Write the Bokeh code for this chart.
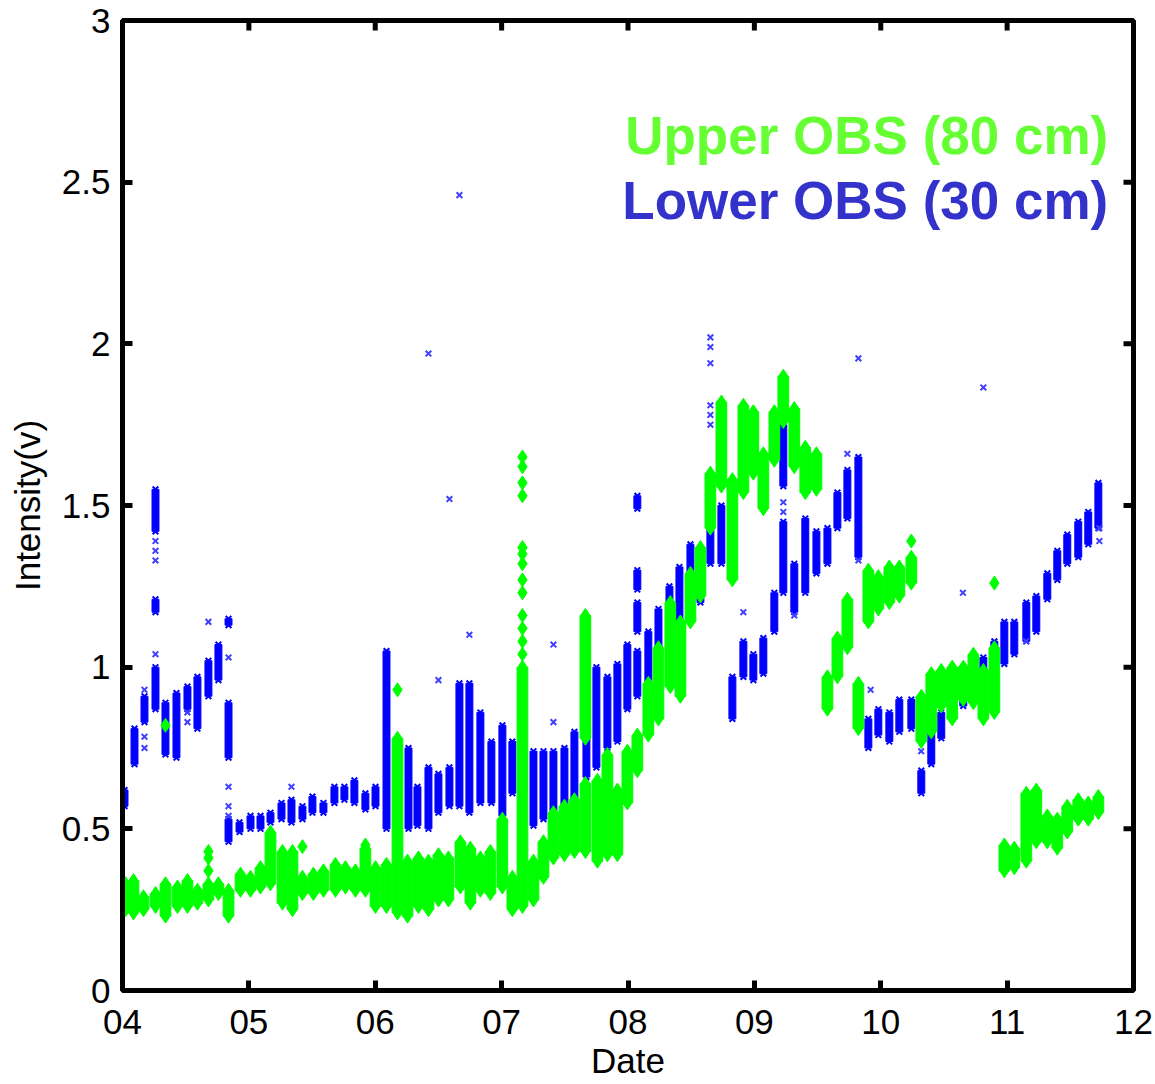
import math
from bokeh.plotting import figure
from bokeh.models import FixedTicker, Range1d, Label
from bokeh.embed import file_html
from bokeh.resources import INLINE

# ---------------- data ----------------
x_ticks = [4, 5, 6, 7, 8, 9, 10, 11, 12]
x_tick_labels = ["04", "05", "06", "07", "08", "09", "10", "11", "12"]
y_ticks = [0, 0.5, 1, 1.5, 2, 2.5, 3]
y_tick_labels = ["0", "0.5", "1", "1.5", "2", "2.5", "3"]

# Lower OBS (30 cm): bursts of samples (x = date, lo/hi = burst range)
blue_x = [4.016, 4.095, 4.174, 4.261, 4.261, 4.261, 4.340, 4.427, 4.514, 4.593, 4.680, 4.759, 4.839, 4.839, 4.839,
          4.926, 5.013, 5.092, 5.171, 5.258, 5.337, 5.424, 5.503, 5.590, 5.677, 5.756, 5.835, 5.922,
          6.002, 6.089, 6.176, 6.263, 6.334, 6.421, 6.500, 6.587, 6.666, 6.745, 6.832, 6.919,
          7.006, 7.085, 7.172, 7.252, 7.331, 7.410, 7.497, 7.576, 7.671, 7.750, 7.837, 7.916, 7.995,
          8.074, 8.074, 8.074, 8.074, 8.161, 8.241, 8.328, 8.407, 8.494, 8.573, 8.652, 8.739, 8.826, 8.913, 8.992,
          9.071, 9.158, 9.229, 9.229, 9.316, 9.403, 9.491, 9.578, 9.657, 9.736, 9.823, 9.902, 9.981,
          10.068, 10.147, 10.242, 10.321, 10.400, 10.479, 10.566, 10.653, 10.733, 10.812, 10.899, 10.978,
          11.057, 11.152, 11.231, 11.318, 11.397, 11.476, 11.563, 11.642, 11.722]
blue_lo = [0.57, 0.70, 0.83, 0.87, 1.17, 1.42, 0.73, 0.72, 0.87, 0.81, 0.91, 0.96, 0.72, 1.13, 0.46,
           0.49, 0.50, 0.50, 0.52, 0.53, 0.52, 0.53, 0.55, 0.55, 0.58, 0.59, 0.58, 0.56,
           0.57, 0.50, 0.49, 0.50, 0.51, 0.50, 0.55, 0.57, 0.57, 0.55, 0.58, 0.58,
           0.54, 0.61, 0.62, 0.51, 0.53, 0.55, 0.56, 0.58, 0.66, 0.69, 0.75, 0.77, 0.87,
           0.91, 1.11, 1.24, 1.49, 0.91, 0.85, 1.01, 0.92, 1.25, 1.20, 1.32, 1.32, 0.84, 0.97, 0.96,
           0.98, 1.11, 1.23, 1.56, 1.17, 1.23, 1.29, 1.32, 1.43, 1.46, 1.34, 0.75, 0.79,
           0.77, 0.80, 0.81, 0.61, 0.70, 0.78, 0.84, 0.88, 0.98, 0.98, 0.99, 1.01,
           1.04, 1.08, 1.11, 1.21, 1.27, 1.32, 1.34, 1.38, 1.43]
blue_hi = [0.62, 0.81, 0.91, 1.00, 1.21, 1.55, 0.89, 0.92, 0.94, 0.97, 1.02, 1.07, 0.89, 1.15, 0.53,
           0.52, 0.54, 0.54, 0.55, 0.58, 0.59, 0.57, 0.60, 0.58, 0.63, 0.63, 0.65, 0.61,
           0.63, 1.05, 0.64, 0.75, 0.63, 0.69, 0.67, 0.69, 0.95, 0.95, 0.86, 0.77,
           0.82, 0.77, 0.74, 0.74, 0.74, 0.74, 0.75, 0.80, 0.80, 1.00, 0.97, 1.01, 1.07,
           1.05, 1.20, 1.30, 1.53, 1.11, 1.18, 1.25, 1.31, 1.38, 1.26, 1.43, 1.50, 0.97, 1.08, 1.04,
           1.09, 1.23, 1.45, 1.75, 1.32, 1.46, 1.42, 1.43, 1.54, 1.61, 1.65, 0.84, 0.87,
           0.86, 0.90, 0.90, 0.68, 0.80, 0.86, 0.91, 0.98, 1.03, 1.03, 1.08, 1.14,
           1.14, 1.20, 1.22, 1.29, 1.36, 1.41, 1.45, 1.48, 1.57]
# isolated Lower OBS samples
blue_out_x = [4.174, 4.174, 4.174, 4.261, 4.261, 4.261, 4.261, 4.514, 4.514, 4.680, 4.839, 4.839, 4.839, 4.839,
              5.337, 6.421, 6.500, 6.587, 6.666, 6.745, 7.410, 7.410, 8.652, 8.652, 8.652, 8.652, 8.652, 8.652,
              8.913, 9.229, 9.229, 9.316, 9.736, 9.823, 9.823, 9.920, 10.32, 10.40, 10.65, 10.812, 11.15,
              11.73, 11.73]
blue_out_y = [0.93, 0.785, 0.75, 1.04, 1.33, 1.36, 1.39, 0.86, 0.83, 1.14, 1.03, 0.63, 0.57, 0.54,
              0.63, 1.97, 0.96, 1.52, 2.46, 1.10, 1.07, 0.83, 2.02, 1.99, 1.94, 1.81, 1.78, 1.75,
              1.17, 1.51, 1.48, 1.16, 1.66, 1.955, 1.33, 0.93, 0.74, 0.81, 1.23, 1.865, 1.08,
              1.43, 1.39]

# Upper OBS (80 cm)
green_x = [4.024, 4.087, 4.166, 4.261, 4.340, 4.435, 4.514, 4.593, 4.680, 4.759, 4.839, 4.934,
           5.013, 5.092, 5.171, 5.266, 5.345, 5.424, 5.511, 5.590, 5.685, 5.764, 5.843, 5.922,
           6.002, 6.089, 6.176, 6.255, 6.342, 6.421, 6.500, 6.579, 6.674, 6.753, 6.832, 6.911,
           7.006, 7.085, 7.165, 7.252, 7.331, 7.410, 7.497, 7.576, 7.663, 7.663, 7.758, 7.837, 7.916, 7.995,
           8.074, 8.161, 8.241, 8.335, 8.415, 8.494, 8.573, 8.652, 8.739, 8.826, 8.913, 8.992,
           9.071, 9.158, 9.229, 9.316, 9.403, 9.491, 9.578, 9.657, 9.736, 9.823, 9.902, 9.981,
           10.068, 10.147, 10.242, 10.321, 10.400, 10.479, 10.566, 10.653, 10.733, 10.812, 10.899, 10.978,
           11.057, 11.152, 11.231, 11.318, 11.397, 11.476, 11.563, 11.642, 11.722]
green_lo = [0.25, 0.24, 0.25, 0.26, 0.23, 0.26, 0.26, 0.27, 0.28, 0.30, 0.23, 0.31,
            0.31, 0.32, 0.33, 0.27, 0.25, 0.30, 0.30, 0.31, 0.31, 0.32, 0.31, 0.31,
            0.26, 0.26, 0.24, 0.23, 0.26, 0.25, 0.28, 0.28, 0.32, 0.27, 0.31, 0.30,
            0.32, 0.25, 0.26, 0.28, 0.35, 0.41, 0.42, 0.43, 0.43, 0.78, 0.40, 0.42, 0.42, 0.58,
            0.68, 0.79, 0.84, 0.94, 0.91, 1.14, 1.22, 1.43, 1.56, 1.27, 1.54, 1.60,
            1.49, 1.64, 1.76, 1.62, 1.54, 1.55, 0.87, 0.97, 1.06, 0.81, 1.14, 1.18,
            1.20, 1.22, 1.26, 0.77, 0.80, 0.88, 0.84, 0.90, 0.89, 0.84, 0.86, 0.37,
            0.38, 0.40, 0.46, 0.46, 0.44, 0.49, 0.53, 0.53, 0.55]
green_hi = [0.33, 0.34, 0.29, 0.30, 0.33, 0.32, 0.34, 0.31, 0.33, 0.33, 0.31, 0.36,
            0.35, 0.38, 0.49, 0.43, 0.43, 0.35, 0.36, 0.37, 0.39, 0.38, 0.37, 0.44,
            0.38, 0.39, 0.78, 0.40, 0.41, 0.40, 0.42, 0.41, 0.46, 0.44, 0.41, 0.43,
            0.53, 0.35, 1.00, 0.40, 0.46, 0.55, 0.57, 0.59, 0.64, 1.16, 0.65, 0.73, 0.62, 0.74,
            0.79, 0.95, 1.06, 1.20, 1.14, 1.29, 1.37, 1.60, 1.82, 1.58, 1.81, 1.79,
            1.66, 1.79, 1.90, 1.80, 1.68, 1.66, 0.97, 1.09, 1.21, 0.95, 1.30, 1.28,
            1.31, 1.31, 1.34, 0.91, 0.98, 0.99, 1.00, 1.00, 1.04, 0.99, 1.06, 0.45,
            0.44, 0.61, 0.62, 0.54, 0.53, 0.57, 0.59, 0.58, 0.60]
green_out_x = [4.340, 4.680, 4.680, 4.680, 5.424, 5.922, 6.176,
               7.165, 7.165, 7.165, 7.165, 7.165, 7.165, 7.165, 7.165, 7.165, 7.165, 7.165, 7.165, 7.165,
               10.242, 10.899]
green_out_y = [0.82, 0.37, 0.41, 0.43, 0.445, 0.45, 0.93,
               1.04, 1.08, 1.12, 1.16, 1.23, 1.27, 1.32, 1.35, 1.37, 1.53, 1.57, 1.62, 1.65,
               1.39, 1.26]

legend_labels = ["Upper OBS (80 cm)", "Lower OBS (30 cm)"]

# ---------------- styling ----------------
BLUE = "#0000ff"
GREEN = "#00ff00"
FONT = "Liberation Sans"

p = figure(width=1155, height=1084, output_backend="svg", toolbar_location=None,
           x_range=Range1d(4, 12), y_range=Range1d(0, 3),
           min_border_left=122, min_border_right=22, min_border_top=20, min_border_bottom=94,
           x_axis_label="Date", y_axis_label="Intensity(v)")
p.background_fill_color = "white"
p.border_fill_color = "white"
p.outline_line_color = "black"
p.outline_line_width = 5
p.xgrid.visible = False
p.ygrid.visible = False

# Lower OBS
p.vbar(x=blue_x, bottom=blue_lo, top=blue_hi, width=0.055, fill_color=BLUE, line_color=BLUE, line_width=1)
p.scatter(blue_x, blue_lo, marker="x", size=8, line_color=BLUE, line_width=2)
p.scatter(blue_x, blue_hi, marker="x", size=8, line_color=BLUE, line_width=2)
p.scatter(blue_out_x, blue_out_y, marker="x", size=8, line_color="#4040ff", line_width=2)

# Upper OBS
p.vbar(x=green_x, bottom=green_lo, top=green_hi, width=0.085, fill_color=GREEN, line_color=GREEN)
p.scatter(green_x, green_lo, marker="diamond", size=14, fill_color=GREEN, line_color=GREEN)
p.scatter(green_x, green_hi, marker="diamond", size=14, fill_color=GREEN, line_color=GREEN)
p.scatter(green_out_x, green_out_y, marker="diamond", size=14, fill_color=GREEN, line_color=GREEN)

# inward ticks on the top and right frame edges (clipped to the frame, so only the inner half shows)
p.scatter(x_ticks, [3] * len(x_ticks), marker="dash", angle=math.pi / 2, size=20,
          line_color="black", line_width=5)
p.scatter([12] * len(y_ticks), y_ticks, marker="dash", size=20, line_color="black", line_width=5)

for ax in p.xaxis + p.yaxis:
    ax.axis_line_width = 5
    ax.axis_line_color = "black"
    ax.major_tick_line_width = 5
    ax.major_tick_in = 10
    ax.major_tick_out = 0
    ax.minor_tick_line_color = None
    ax.major_label_text_font = FONT
    ax.major_label_text_font_size = "35px"
    ax.major_label_text_color = "black"
    ax.axis_label_text_font = FONT
    ax.axis_label_text_font_size = "35px"
    ax.axis_label_text_font_style = "normal"
    ax.axis_label_text_color = "black"

p.xaxis.ticker = FixedTicker(ticks=x_ticks)
p.xaxis.major_label_overrides = dict(zip(x_ticks, x_tick_labels))
p.yaxis.ticker = FixedTicker(ticks=y_ticks)
p.yaxis.major_label_overrides = dict(zip(y_ticks, y_tick_labels))
p.xaxis.major_label_standoff = 19
p.xaxis.axis_label_standoff = 4
p.yaxis.major_label_standoff = 12
p.yaxis.axis_label_standoff = 12

p.add_layout(Label(x=11.80, y=2.645, text=legend_labels[0], text_align="right", text_baseline="middle",
                   text_font=FONT, text_font_size="53px", text_font_style="bold", text_color="#66ff33"))
p.add_layout(Label(x=11.80, y=2.444, text=legend_labels[1], text_align="right", text_baseline="middle",
                   text_font=FONT, text_font_size="53px", text_font_style="bold", text_color="#3333cc"))

open("out.html", "w").write(file_html(p, INLINE))
